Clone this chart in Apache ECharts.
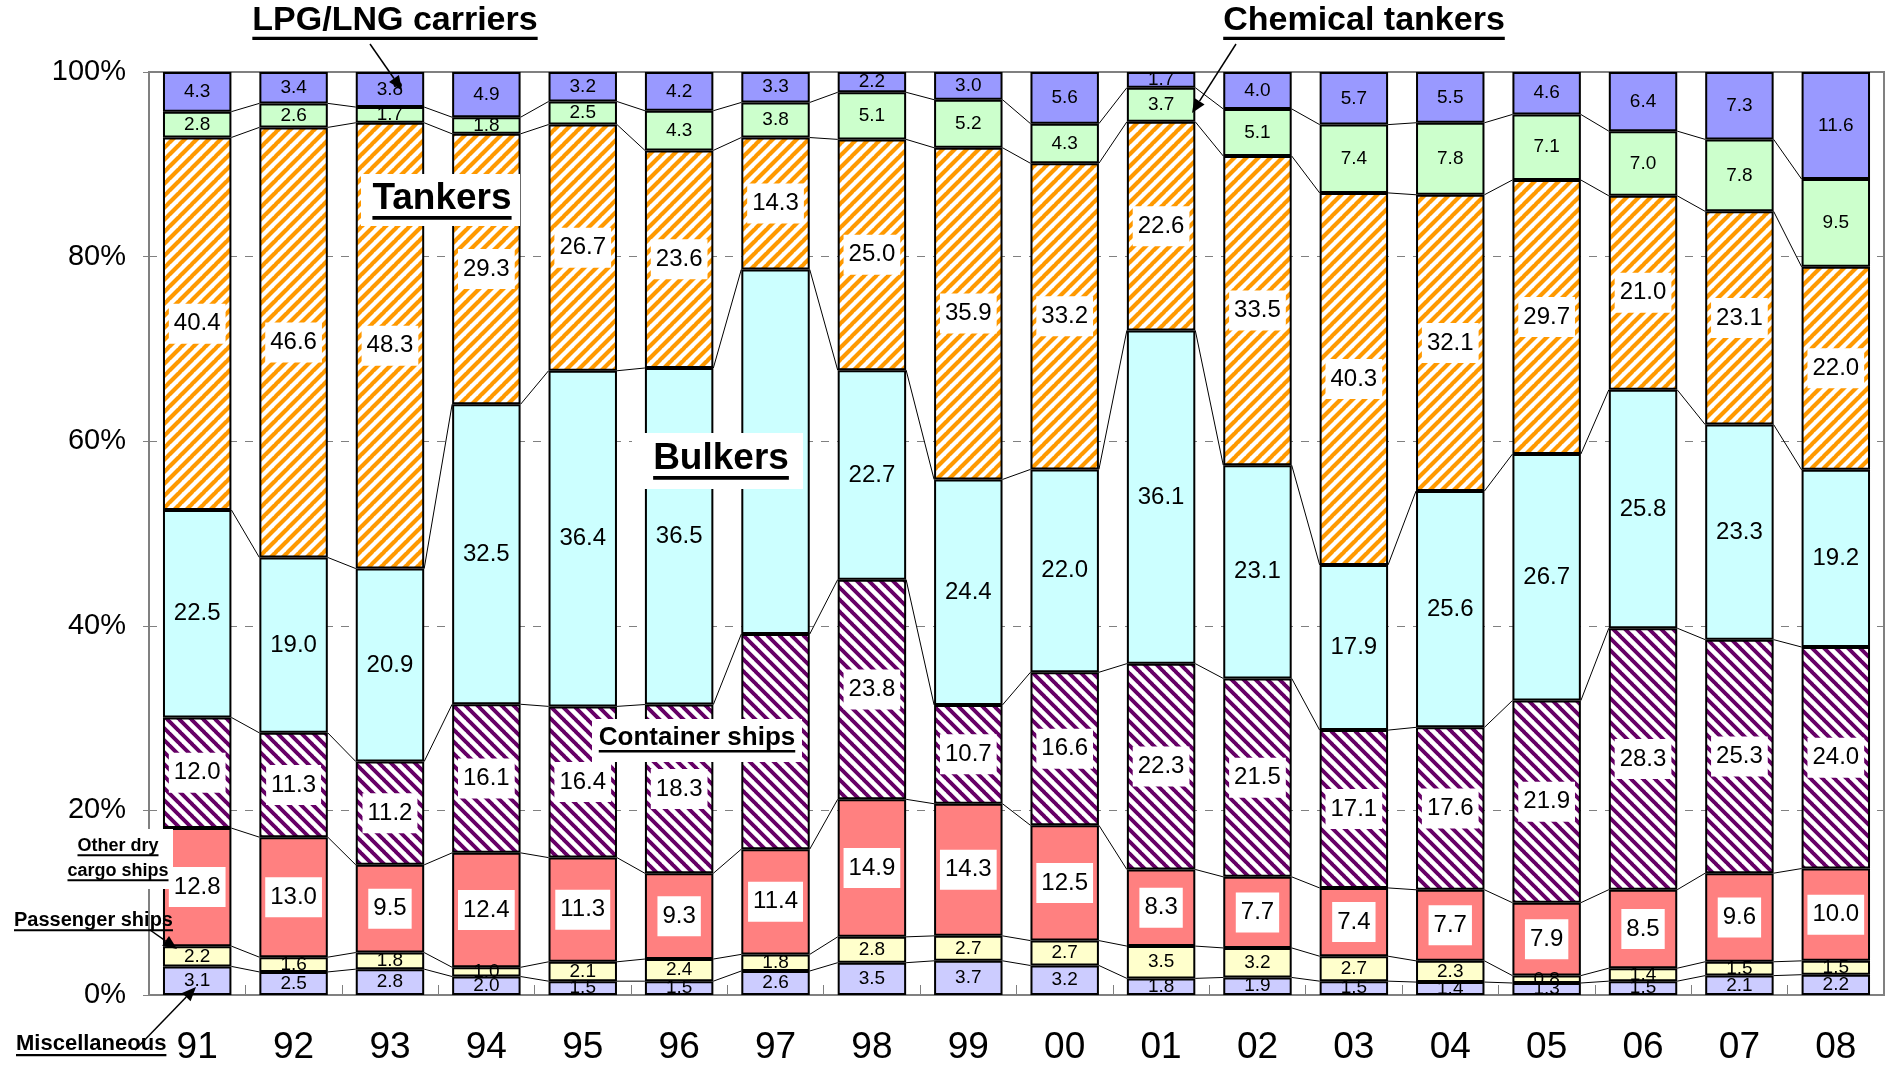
<!DOCTYPE html>
<html><head><meta charset="utf-8">
<script src="https://cdn.jsdelivr.net/npm/echarts@6/dist/echarts.min.js"></script>
<style>html,body{margin:0;padding:0;background:#fff}#c{width:1888px;height:1066px}</style>
</head><body><div id="c"></div>
<script>
// ---- data (bottom to top of each stacked bar) ----
const years = ['91','92','93','94','95','96','97','98','99','00','01','02','03','04','05','06','07','08'];
const miscellaneous = [3.1,2.5,2.8,2.0,1.5,1.5,2.6,3.5,3.7,3.2,1.8,1.9,1.5,1.4,1.3,1.5,2.1,2.2];
const passenger     = [2.2,1.6,1.8,1.0,2.1,2.4,1.8,2.8,2.7,2.7,3.5,3.2,2.7,2.3,0.8,1.4,1.5,1.5];
const otherDry      = [12.8,13.0,9.5,12.4,11.3,9.3,11.4,14.9,14.3,12.5,8.3,7.7,7.4,7.7,7.9,8.5,9.6,10.0];
const container     = [12.0,11.3,11.2,16.1,16.4,18.3,23.3,23.8,10.7,16.6,22.3,21.5,17.1,17.6,21.9,28.3,25.3,24.0];
const bulkers       = [22.5,19.0,20.9,32.5,36.4,36.5,39.5,22.7,24.4,22.0,36.1,23.1,17.9,25.6,26.7,25.8,23.3,19.2];
const tankers       = [40.4,46.6,48.3,29.3,26.7,23.6,14.3,25.0,35.9,33.2,22.6,33.5,40.3,32.1,29.7,21.0,23.1,22.0];
const chemical      = [2.8,2.6,1.7,1.8,2.5,4.3,3.8,5.1,5.2,4.3,3.7,5.1,7.4,7.8,7.1,7.0,7.8,9.5];
const lpgLng        = [4.3,3.4,3.8,4.9,3.2,4.2,3.3,2.2,3.0,5.6,1.7,4.0,5.7,5.5,4.6,6.4,7.3,11.6];
const yTicks = [0,20,40,60,80,100];
// labels hidden behind the annotation boxes in the reference (1997)
const hiddenLabels = {container:[6], bulkers:[6]};

// ---- styles ----
const NUMFONT = '"Liberation Sans",Arial,sans-serif';
const ANNFONT = '"Liberation Sans",Arial,sans-serif';

function stripes(color, dir, P, w) {
  const c = document.createElement('canvas'); c.width = P; c.height = P;
  const g = c.getContext('2d');
  g.fillStyle = '#fff'; g.fillRect(0,0,P,P);
  g.strokeStyle = color; g.lineWidth = w;
  g.beginPath();
  for (let k = -1; k <= 1; k++) {
    if (dir === '/') { g.moveTo(k*P - 1, P + 1); g.lineTo(k*P + P + 1, -1); }
    else { g.moveTo(k*P - 1, -1); g.lineTo(k*P + P + 1, P + 1); }
  }
  g.stroke();
  return c;
}
const tankerFill = {image: stripes('#FF9900','/',12,4.2), repeat:'repeat'};
const containerFill = {image: stripes('#660066','\\',12,3.9), repeat:'repeat'};

const defs = [
  {key:'miscellaneous', name:'Miscellaneous', data:miscellaneous, color:'#CCCCFF', big:false, bg:false},
  {key:'passenger', name:'Passenger ships', data:passenger, color:'#FFFFCC', big:false, bg:false},
  {key:'otherDry', name:'Other dry cargo ships', data:otherDry, color:'#FF8080', big:true, bg:true},
  {key:'container', name:'Container ships', data:container, color:containerFill, big:true, bg:true},
  {key:'bulkers', name:'Bulkers', data:bulkers, color:'#CCFFFF', big:true, bg:false},
  {key:'tankers', name:'Tankers', data:tankers, color:tankerFill, big:true, bg:true},
  {key:'chemical', name:'Chemical tankers', data:chemical, color:'#CCFFCC', big:false, bg:false},
  {key:'lpgLng', name:'LPG/LNG carriers', data:lpgLng, color:'#9999FF', big:false, bg:false}
];

const totals = years.map((_, i) => defs.reduce((s, d) => s + d.data[i], 0));
const pct = defs.map(d => d.data.map((v, i) => v / totals[i] * 100));
const cum = [];
defs.forEach((d, k) => {
  cum[k] = years.map((_, i) => (k ? cum[k-1][i] : 0) + pct[k][i]);
});

const BARW = 0.71;
const series = defs.map((d, k) => ({
  name: d.name, type: 'bar', stack: 'all', barWidth: (BARW*100) + '%',
  data: d.data.map((v, i) => {
    const item = {value: pct[k][i], raw: v};
    if (hiddenLabels[d.key] && hiddenLabels[d.key].includes(i)) item.label = {show:false};
    return item;
  }),
  itemStyle: {color: d.color, borderColor: '#000', borderWidth: 2},
  label: {
    show: true, position: 'inside',
    formatter: p => p.data.raw.toFixed(1),
    fontFamily: NUMFONT, fontSize: d.big ? 24 : 19, color: '#000',
    backgroundColor: d.bg ? '#fff' : 'transparent',
    padding: d.bg ? [8, 5] : 0
  },
  emphasis: {disabled: true}, z: 2
}));

// connector lines between bars at each segment boundary
const connData = [];
for (let k = 0; k < defs.length - 1; k++) {
  for (let i = 0; i < years.length - 1; i++) connData.push([i, cum[k][i], cum[k][i+1]]);
}
series.push({
  type: 'custom', name: 'connectors', data: connData, encode: {x: 0, y: 1}, silent: true, z: 1,
  renderItem: (params, api) => {
    const i = api.value(0);
    const p1 = api.coord([i, api.value(1)]);
    const p2 = api.coord([i + 1, api.value(2)]);
    const hw = api.size([1, 0])[0] * BARW / 2;
    return {type: 'line', shape: {x1: p1[0] + hw, y1: p1[1], x2: p2[0] - hw, y2: p2[1]},
            style: {stroke: '#000', lineWidth: 1}};
  }
});

// ---- annotations ----
const mctx = document.createElement('canvas').getContext('2d');
function annot(text, x, y, size, align, bg) {
  const font = 'bold ' + size + 'px ' + ANNFONT;
  mctx.font = font;
  const w = mctx.measureText(text).width;
  const left = align === 'center' ? x - w/2 : x;
  const els = [];
  if (bg) els.push({type:'rect', z:100, shape:{x:bg[0], y:bg[1], width:bg[2], height:bg[3]}, style:{fill:'#fff'}});
  els.push({type:'text', z:101, x:left, y:y, style:{text, font, fill:'#000', textAlign:'left', textVerticalAlign:'middle', align:'left', verticalAlign:'middle'}});
  els.push({type:'rect', z:101, shape:{x:left, y:y + size*0.46, width:w, height:Math.max(2, size*0.1)}, style:{fill:'#000'}});
  return els;
}
function arrow(x1, y1, x2, y2) {
  const dx = x2 - x1, dy = y2 - y1, L = Math.hypot(dx, dy);
  const ux = dx/L, uy = dy/L, hl = 14, hw = 6;
  const bx = x2 - ux*hl, by = y2 - uy*hl;
  return [
    {type:'line', z:102, shape:{x1, y1, x2:bx, y2:by}, style:{stroke:'#000', lineWidth:1.5}},
    {type:'polygon', z:102, shape:{points:[[x2,y2],[bx - uy*hw, by + ux*hw],[bx + uy*hw, by - ux*hw]]}, style:{fill:'#000'}}
  ];
}
const graphics = [].concat(
  annot('LPG/LNG carriers', 395, 21, 34, 'center'),
  arrow(370, 44, 402, 90),
  annot('Chemical tankers', 1364, 21, 34, 'center'),
  arrow(1236, 44, 1192, 113),
  annot('Tankers', 442, 199, 37, 'center', [361, 174, 159, 52]),
  annot('Bulkers', 721, 459, 37, 'center', [632, 433, 171, 56]),
  annot('Container ships', 697, 738, 26, 'center', [592, 719, 210, 43]),
  annot('Other dry', 118, 846, 18, 'center', [60, 829, 113, 60]),
  annot('cargo ships', 118, 871, 18, 'center'),
  annot('Passenger ships', 14, 920, 20, 'left'),
  arrow(150, 930, 177, 949),
  annot('Miscellaneous', 16, 1044, 22, 'left'),
  arrow(135, 1050, 196, 987)
);

const chart = echarts.init(document.getElementById('c'), null, {renderer: 'canvas'});
chart.setOption({
  animation: false,
  backgroundColor: '#fff',
  grid: {left: 149, right: 4, top: 72, bottom: 69, show: true, borderColor: '#808080', borderWidth: 2, containLabel: false},
  xAxis: {
    type: 'category', data: years,
    axisLine: {lineStyle: {color: '#808080', width: 2}},
    axisTick: {show: true, inside: true, length: 10, lineStyle: {color: '#808080', width: 1}},
    axisLabel: {fontFamily: NUMFONT, fontSize: 37, color: '#000', margin: 34}
  },
  yAxis: {
    type: 'value', min: yTicks[0], max: yTicks[yTicks.length-1], interval: yTicks[1] - yTicks[0],
    axisLine: {show: true, lineStyle: {color: '#808080', width: 2}},
    axisTick: {show: true, length: 6, lineStyle: {color: '#808080'}},
    axisLabel: {formatter: '{value}%', fontFamily: NUMFONT, fontSize: 29, color: '#000', margin: 23},
    splitLine: {show: true, lineStyle: {color: '#808080', type: [8, 8], width: 1}}
  },
  series: series,
  graphic: {elements: graphics}
});
</script></body></html>
